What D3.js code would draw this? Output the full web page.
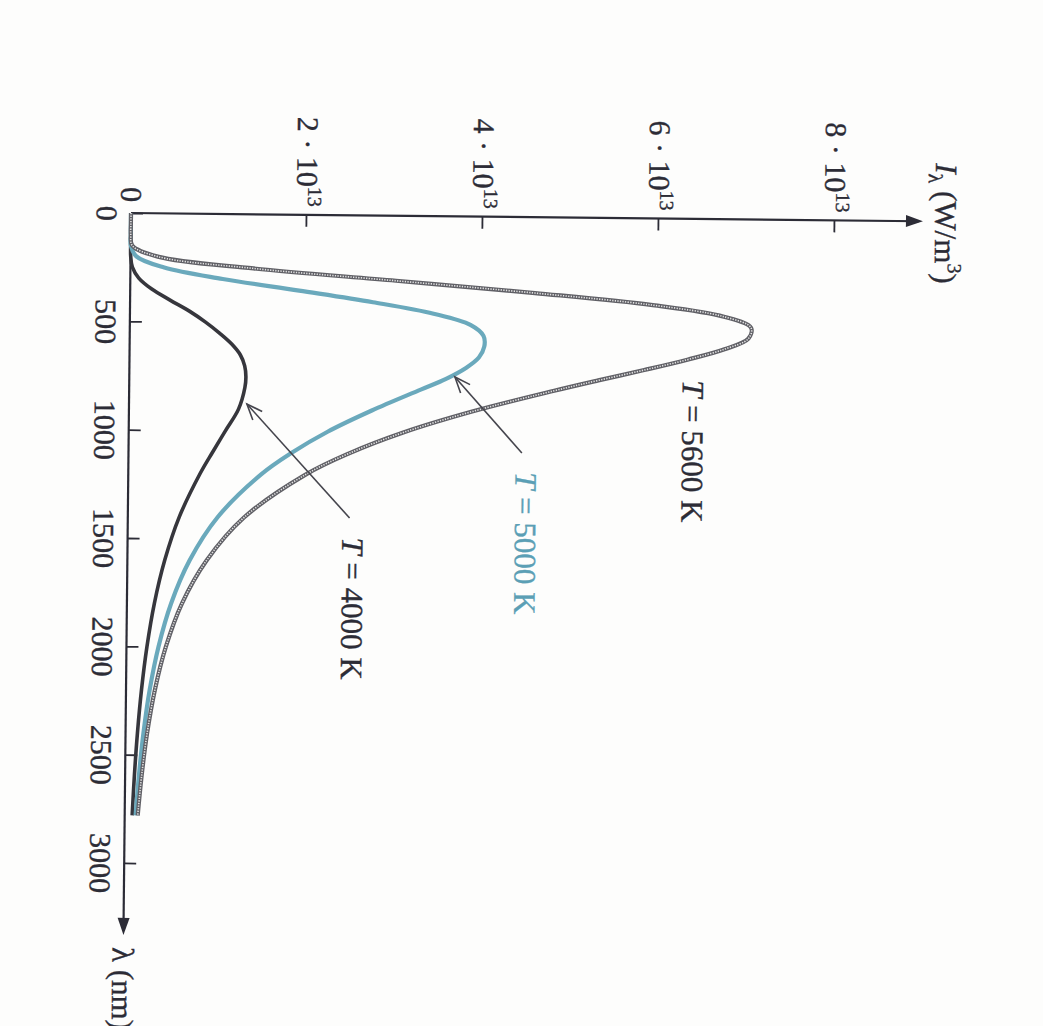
<!DOCTYPE html>
<html>
<head>
<meta charset="utf-8">
<script src="https://cdn.jsdelivr.net/npm/d3@7"></script>
<style>
  html, body { margin: 0; padding: 0; background: #fdfdfc; }
  svg { display: block; }
</style>
</head>
<body>
<svg id="chart" width="1043" height="1026"></svg>
<script>
// ---- data (I in units of 10^13 W/m^3, lambda in nm) ----
const lambda = [0, 50, 100, 150, 200, 250, 300, 350, 400, 450, 500, 550, 600, 650, 700, 750, 800, 900, 1000, 1100, 1200, 1400, 1600, 1800, 2000, 2200, 2400, 2600, 2780];
const I5600 = [0, 0, 0, 0.018, 0.31, 1.40, 3.02, 4.60, 5.94, 6.75, 7.06, 7.03, 6.76, 6.34, 5.85, 5.33, 4.83, 3.90, 3.12, 2.50, 2.01, 1.32, 0.90, 0.625, 0.448, 0.328, 0.245, 0.187, 0.148];
const I5000 = [0, 0, 0, 0.002, 0.066, 0.384, 1.05, 1.92, 2.76, 3.45, 3.87, 4.02, 4.03, 3.97, 3.82, 3.60, 3.32, 2.76, 2.26, 1.85, 1.51, 1.02, 0.708, 0.502, 0.364, 0.269, 0.203, 0.156, 0.124];
const I4000 = [0, 0, 0, 0, 0.002, 0.022, 0.096, 0.245, 0.454, 0.675, 0.86, 1.02, 1.16, 1.26, 1.31, 1.325, 1.315, 1.245, 1.10, 0.955, 0.815, 0.585, 0.425, 0.312, 0.233, 0.176, 0.135, 0.105, 0.085];

const lambdaTicks = [0, 500, 1000, 1500, 2000, 2500, 3000];
const iTicks = [0, 2, 4, 6, 8];
const iTickMantissa = ["0", "2 · 10", "4 · 10", "6 · 10", "8 · 10"];
const iTickExponent = ["", "13", "13", "13", "13"];

const seriesNames = ["T = 5600 K", "T = 5000 K", "T = 4000 K"];
// label anchor (lambda, I) and arrow tail/tip in data units
const labelPos = [[744, 6.29], [1177, 4.40], [1486, 2.44]];
const arrows = [null, [[1089, 4.47], [741, 3.70]], [[1397, 2.52], [876, 1.34]]];

// ---- drawing ----
const svg = d3.select("#chart");
const ink = "#2c2c36";
const blue = "#6aa9bc";
const font = "'Liberation Serif', 'Times New Roman', serif";

const x = d3.scaleLinear().domain([0, 3000]).range([0, 650]);
const y = d3.scaleLinear().domain([0, 8]).range([0, -704]);

const g = svg.append("g").attr("transform", "translate(131,213) rotate(90.6)");

// axes via d3
const xAxis = d3.axisBottom(x).tickValues(lambdaTicks).tickSize(-12).tickSizeOuter(0).tickPadding(13)
  .tickFormat(d3.format("d"));
const gx = g.append("g").call(xAxis);
const yAxis = d3.axisLeft(y).tickValues(iTicks).tickSize(-12).tickSizeOuter(0).tickPadding(8)
  .tickFormat(() => "");
const gy = g.append("g").call(yAxis);

[gx, gy].forEach(a => {
  a.select(".domain").remove();
  a.selectAll(".tick line").attr("stroke", ink).attr("stroke-width", 1.8);
  a.selectAll("text").attr("fill", ink).attr("stroke", ink).attr("stroke-width", 0.35)
    .style("font-family", font).style("font-size", "30px");
});

gy.selectAll(".tick text").each(function(d, i) {
  const t = d3.select(this);
  t.text(null);
  t.append("tspan").text(iTickMantissa[i]);
  if (iTickExponent[i]) {
    t.append("tspan").attr("dy", "-0.55em").style("font-size", "20px").text(iTickExponent[i]);
  }
});
gy.select(".tick text").attr("x", -11);

// axis lines with arrowheads
const xEnd = x(3332), yEnd = y(9.0);
g.append("line").attr("x1", 0).attr("y1", 0).attr("x2", xEnd - 4).attr("y2", 0)
  .attr("stroke", ink).attr("stroke-width", 2.2);
g.append("line").attr("x1", 0).attr("y1", 0).attr("x2", 0).attr("y2", yEnd + 4)
  .attr("stroke", ink).attr("stroke-width", 2.2);
g.append("path").attr("d", `M${xEnd},0 L${xEnd - 17},-6 L${xEnd - 17},6 Z`).attr("fill", ink);
g.append("path").attr("d", `M0,${yEnd} L-6,${yEnd + 17} L6,${yEnd + 17} Z`).attr("fill", ink);

// axis titles
const yt = g.append("text").attr("x", 2).attr("y", y(9.14)).attr("text-anchor", "middle")
  .attr("fill", ink).attr("stroke", ink).attr("stroke-width", 0.35)
  .style("font-family", font).style("font-size", "31px");
yt.append("tspan").style("font-style", "italic").text("I");
yt.append("tspan").attr("dy", 7).style("font-size", "20px").text("λ");
yt.append("tspan").attr("dy", -7).text(" (W/m");
yt.append("tspan").attr("dy", -13).style("font-size", "20px").text("3");
yt.append("tspan").attr("dy", 13).text(")");

g.append("text").attr("x", x(3388)).attr("y", 0).attr("dy", "0.35em")
  .attr("fill", ink).attr("stroke", ink).attr("stroke-width", 0.35)
  .style("font-family", font).style("font-size", "31px").text("λ (nm)");

// curves
const line = d3.line().x(d => x(d[0])).y(d => y(d[1])).curve(d3.curveCatmullRom.alpha(0.5));
const pts = arr => lambda.map((l, i) => [l, arr[i]]);

g.append("path").attr("d", line(pts(I4000))).attr("fill", "none")
  .attr("stroke", "#36363c").attr("stroke-width", 3.6).attr("stroke-linejoin", "round");
g.append("path").attr("d", line(pts(I5000))).attr("fill", "none")
  .attr("stroke", blue).attr("stroke-width", 4.2).attr("stroke-linejoin", "round");
g.append("path").attr("d", line(pts(I5600))).attr("fill", "none")
  .attr("stroke", "#606066").attr("stroke-width", 4.2).attr("stroke-linejoin", "round");
g.append("path").attr("d", line(pts(I5600))).attr("fill", "none")
  .attr("stroke", "#e2e2e2").attr("stroke-width", 1.6).attr("stroke-dasharray", "1.3 1.3");

// labels
const labelColors = [ink, "#5b9fb5", ink];
seriesNames.forEach((name, i) => {
  const t = g.append("text").attr("x", x(labelPos[i][0])).attr("y", y(labelPos[i][1]))
    .attr("fill", labelColors[i]).attr("stroke", labelColors[i]).attr("stroke-width", 0.35)
    .style("font-family", font).style("font-size", "31px");
  t.append("tspan").style("font-style", "italic").text(name.slice(0, 1));
  t.append("tspan").text(name.slice(1));
});

// arrows
arrows.forEach(a => {
  if (!a) return;
  const [tail, tip] = a;
  const x1 = x(tail[0]), y1 = y(tail[1]), x2 = x(tip[0]), y2 = y(tip[1]);
  g.append("line").attr("x1", x1).attr("y1", y1).attr("x2", x2).attr("y2", y2)
    .attr("stroke", "#45454d").attr("stroke-width", 1.6);
  const ang = Math.atan2(y2 - y1, x2 - x1);
  const L = 17, w = 0.38;
  const p1 = [x2 - L * Math.cos(ang - w), y2 - L * Math.sin(ang - w)];
  const p2 = [x2 - L * Math.cos(ang + w), y2 - L * Math.sin(ang + w)];
  g.append("path").attr("d", `M${p1[0]},${p1[1]} L${x2},${y2} L${p2[0]},${p2[1]}`)
    .attr("fill", "none").attr("stroke", "#45454d").attr("stroke-width", 1.6);
});
</script>
</body>
</html>
